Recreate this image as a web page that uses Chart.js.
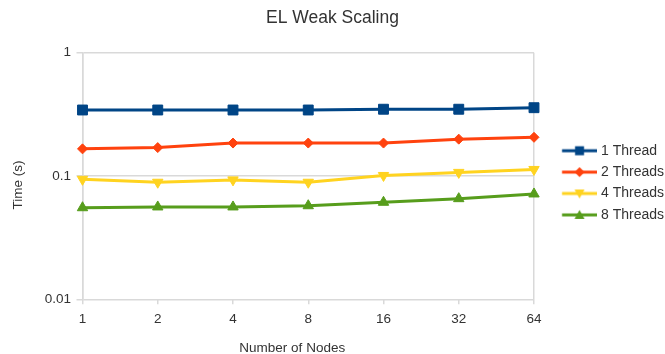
<!DOCTYPE html>
<html>
<head>
<meta charset="utf-8">
<title>EL Weak Scaling</title>
<script src="https://cdn.jsdelivr.net/npm/chart.js@4/dist/chart.umd.min.js"></script>
<style>
  html, body { margin: 0; padding: 0; background: #ffffff; }
  #wrap { width: 665px; height: 354px; position: relative; }
</style>
</head>
<body>
<div id="wrap"><canvas id="chart" width="665" height="354"></canvas></div>
<script>
// Node counts along the x axis
const nodeCounts = ['1', '2', '4', '8', '16', '32', '64'];

// Run time in seconds per thread count
const oneThread    = [0.343, 0.343, 0.343, 0.343, 0.348, 0.348, 0.358];
const twoThreads   = [0.166, 0.170, 0.185, 0.185, 0.185, 0.199, 0.206];
const fourThreads  = [0.094, 0.089, 0.093, 0.089, 0.101, 0.107, 0.113];
const eightThreads = [0.0553, 0.0561, 0.0561, 0.0574, 0.0612, 0.0655, 0.0715];

// Series names
const seriesNames = ['1 Thread', '2 Threads', '4 Threads', '8 Threads'];

// Decade ticks on the log axis and their labels
const yTickValues = [0.01, 0.1, 1];
const yTickLabels = ['0.01', '0.1', '1'];

const chartTitle = 'EL Weak Scaling';
const xAxisTitle = 'Number of Nodes';
const yAxisTitle = 'Time (s)';

const colors = ['#004586', '#ff420e', '#ffd320', '#579d1c'];
const gridColor = '#d9d9d9';
const textColor = '#333333';
const fontFamily = '"Liberation Sans", Arial, sans-serif';

Chart.defaults.font.family = fontFamily;
Chart.defaults.color = textColor;

// Legend glyph: a short line with the series marker in the middle
function makeGlyph(color, shape) {
  const c = document.createElement('canvas');
  c.width = 59; c.height = 16;
  const g = c.getContext('2d');
  const cy = 8, x0 = 23.8, x1 = 59, cx = 41.3;
  g.strokeStyle = color; g.fillStyle = color; g.lineWidth = 3;
  g.beginPath(); g.moveTo(x0, cy); g.lineTo(x1, cy); g.stroke();
  g.beginPath();
  if (shape === 'square') {
    g.rect(cx - 4.5, cy - 4.5, 9, 9);
  } else if (shape === 'diamond') {
    g.moveTo(cx, cy - 5); g.lineTo(cx + 5, cy); g.lineTo(cx, cy + 5); g.lineTo(cx - 5, cy);
  } else if (shape === 'down') {
    g.moveTo(cx - 5, cy - 4); g.lineTo(cx + 5, cy - 4); g.lineTo(cx, cy + 5);
  } else {
    g.moveTo(cx - 5, cy + 4); g.lineTo(cx + 5, cy + 4); g.lineTo(cx, cy - 5);
  }
  g.closePath(); g.fill();
  return c;
}
const legendGlyphs = [
  makeGlyph(colors[0], 'square'),
  makeGlyph(colors[1], 'diamond'),
  makeGlyph(colors[2], 'down'),
  makeGlyph(colors[3], 'up')
];

function series(label, data, color, style, radius, rotation) {
  return {
    label: label,
    data: data,
    borderColor: color,
    backgroundColor: color,
    borderWidth: 3,
    pointStyle: style,
    pointRadius: radius,
    pointRotation: rotation,
    pointBackgroundColor: color,
    pointBorderColor: color,
    pointBorderWidth: 1,
    fill: false,
    tension: 0
  };
}

// Axis captions, placed relative to the plot area
const axisCaptions = {
  id: 'axisCaptions',
  afterDraw(chart) {
    const { ctx, chartArea: a } = chart;
    ctx.save();
    ctx.fillStyle = textColor;
    ctx.font = '13.5px ' + fontFamily;
    ctx.textAlign = 'center';
    ctx.textBaseline = 'middle';
    ctx.fillText(xAxisTitle, (a.left + a.right) / 2 - 16, a.bottom + 48.7);
    ctx.translate(a.left - 64.5, (a.top + a.bottom) / 2 + 9);
    ctx.rotate(-Math.PI / 2);
    ctx.fillText(yAxisTitle, 0, 0);
    ctx.restore();
  }
};

new Chart(document.getElementById('chart'), {
  type: 'line',
  data: {
    labels: nodeCounts,
    datasets: [
      series(seriesNames[0], oneThread,    colors[0], 'rect',     7,   0),
      series(seriesNames[1], twoThreads,   colors[1], 'rectRot',  5,   0),
      series(seriesNames[2], fourThreads,  colors[2], 'triangle', 6, 180),
      series(seriesNames[3], eightThreads, colors[3], 'triangle', 6,   0)
    ]
  },
  options: {
    responsive: false,
    animation: false,
    events: [],
    layout: { padding: 0 },
    plugins: {
      title: {
        display: true,
        text: chartTitle,
        color: textColor,
        font: { size: 17.5, weight: 'normal' },
        padding: { top: 8, bottom: 23.7 }
      },
      legend: {
        position: 'right',
        maxWidth: 131,
        title: { display: true, text: '', font: { size: 10, lineHeight: 1 }, padding: { top: 1.6, bottom: 0 } },
        labels: {
          usePointStyle: true,
          pointStyleWidth: 52.6,
          padding: 7.4,
          color: textColor,
          font: { size: 14 },
          generateLabels(chart) {
            const items = Chart.defaults.plugins.legend.labels.generateLabels(chart);
            items.forEach(it => {
              it.pointStyle = legendGlyphs[it.datasetIndex];
              it.rotation = 0;
            });
            return items;
          }
        }
      },
      tooltip: { enabled: false }
    },
    scales: {
      x: {
        type: 'category',
        offset: false,
        afterFit(scale) { scale.height = 54.7; },
        grid: {
          offset: false,
          color: ctx => (ctx.index === 0 || ctx.index === nodeCounts.length - 1) ? gridColor : 'rgba(0,0,0,0)',
          tickColor: gridColor,
          tickLength: 5,
          lineWidth: 1.5
        },
        border: { display: false },
        ticks: { color: textColor, font: { size: 13.5 }, padding: 6.5, maxRotation: 0, autoSkip: false }
      },
      y: {
        type: 'logarithmic',
        min: 0.01,
        max: 1,
        afterFit(scale) { scale.width = 82.5; },
        afterBuildTicks(scale) { scale.ticks = yTickValues.map(v => ({ value: v })); },
        grid: { color: gridColor, tickColor: gridColor, tickLength: 6, lineWidth: 1.5 },
        border: { display: true, color: gridColor, width: 1.5 },
        ticks: {
          color: textColor,
          font: { size: 13.5 },
          padding: 5.5,
          callback: (value, index) => yTickLabels[index]
        }
      }
    }
  },
  plugins: [axisCaptions]
});
</script>
</body>
</html>
